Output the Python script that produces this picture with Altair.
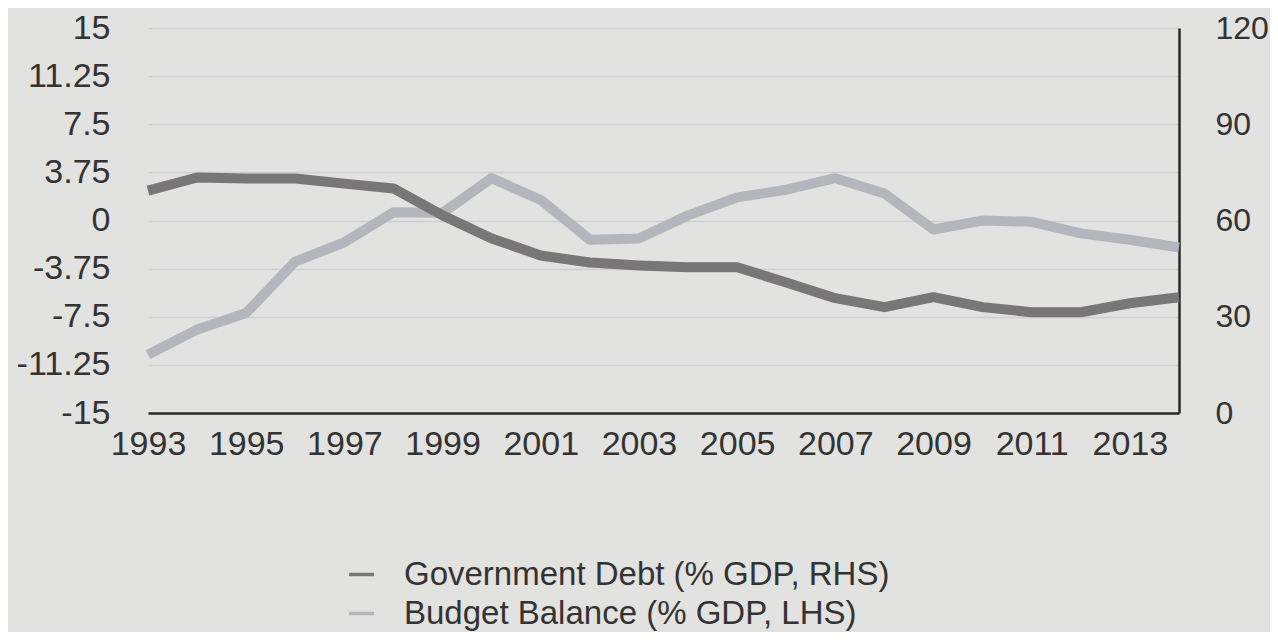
import altair as alt
import pandas as pd

years = list(range(1993, 2015))
debt = [69.3, 73.4, 73.1, 73.1, 71.5, 70.0, 61.6, 54.4, 49.1, 46.9, 46.0,
        45.4, 45.4, 40.7, 35.8, 33.0, 36.1, 33.0, 31.4, 31.4, 34.2, 36.1]
balance = [-10.45, -8.5, -7.2, -3.2, -1.7, 0.65, 0.6, 3.3, 1.6, -1.5, -1.4,
           0.4, 1.8, 2.4, 3.3, 2.1, -0.7, 0.0, -0.1, -1.0, -1.5, -2.1]
series = ["Government Debt (% GDP, RHS)", "Budget Balance (% GDP, LHS)"]
colors = ["#787677", "#b3b6bc"]
left_ticks = [-15, -11.25, -7.5, -3.75, 0, 3.75, 7.5, 11.25, 15]
right_ticks = [0, 30, 60, 90, 120]
x_ticks = list(range(1993, 2015, 2))

df_debt = pd.DataFrame({"year": years, "value": debt, "series": series[0]})
df_bal = pd.DataFrame({"year": years, "value": balance, "series": series[1]})

FONT = "Liberation Sans"
LABEL_COLOR = "#333333"

x_enc = alt.X("year:Q", scale=alt.Scale(domain=[1993, 2014], nice=False, zero=False),
              axis=alt.Axis(values=x_ticks, format="d", title=None, grid=False, ticks=False,
                            domain=True, domainColor="#2a2a2a", domainWidth=2.5,
                            labelFontSize=34, labelFont=FONT, labelColor=LABEL_COLOR,
                            labelPadding=14, labelFlush=False))

color_enc = alt.Color("series:N", scale=alt.Scale(domain=series, range=colors),
                      legend=alt.Legend(title=None, orient="none", legendX=197, legendY=530,
                                        symbolType="stroke", symbolSize=625, symbolStrokeWidth=3.5,
                                        labelFontSize=33, labelFont=FONT, labelColor=LABEL_COLOR,
                                        labelOffset=26, rowPadding=5, labelLimit=800))

bal_line = alt.Chart(df_bal).mark_line(strokeWidth=10, strokeJoin="round").encode(
    x=x_enc,
    y=alt.Y("value:Q", scale=alt.Scale(domain=[-15, 15], nice=False, zero=False),
            axis=alt.Axis(values=left_ticks, title=None, orient="left", grid=True,
                          gridColor="#cfcfd3", gridWidth=1.5, ticks=False, domain=False,
                          labelExpr="'' + datum.value", labelFontSize=34, labelFont=FONT,
                          labelColor=LABEL_COLOR, labelPadding=38)),
    color=color_enc,
)

debt_line = alt.Chart(df_debt).mark_line(strokeWidth=10, strokeJoin="round").encode(
    x=x_enc,
    y=alt.Y("value:Q", scale=alt.Scale(domain=[0, 120], nice=False, zero=False),
            axis=alt.Axis(values=right_ticks, title=None, orient="right", grid=False,
                          ticks=False, domain=True, domainColor="#2a2a2a", domainWidth=2.5,
                          labelFontSize=32, labelFont=FONT, labelColor=LABEL_COLOR,
                          labelPadding=36)),
    color=color_enc,
)

chart = alt.layer(bal_line, debt_line).resolve_scale(y="independent").properties(
    width=1031, height=385,
    autosize=alt.AutoSizeParams(type="none"),
    padding={"left": 140, "top": 20, "right": 91, "bottom": 219},
    background="#e2e2e0",
).configure_view(stroke=None)

chart.save("out.html", embed_options={"renderer": "svg", "actions": False})
